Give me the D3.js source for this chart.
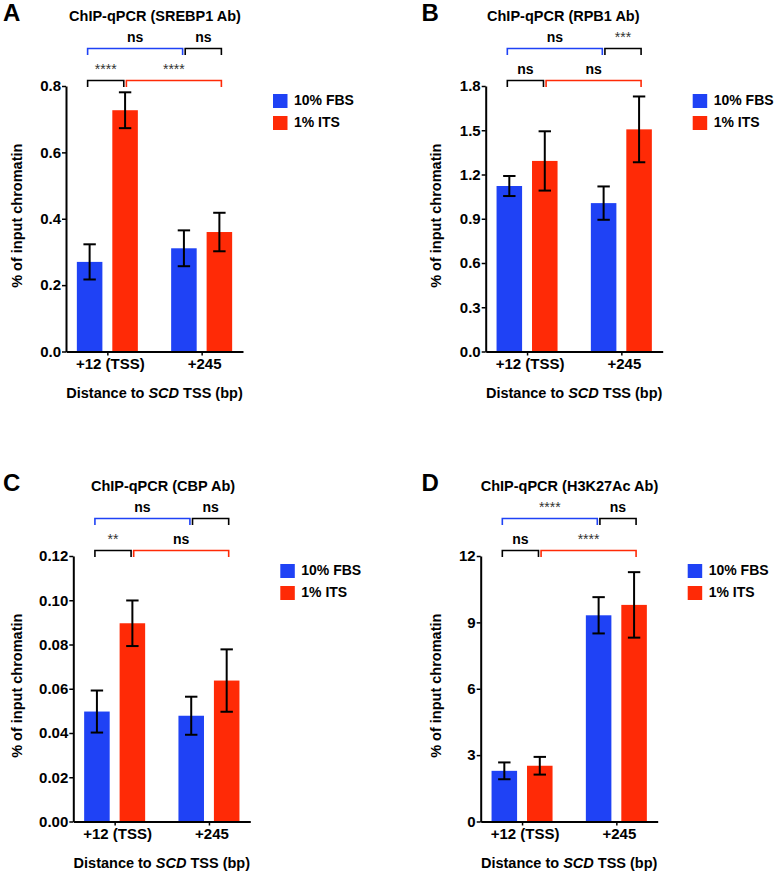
<!DOCTYPE html>
<html>
<head>
<meta charset="utf-8">
<script src="https://cdn.jsdelivr.net/npm/d3@7"></script>
<style>
  html, body { margin: 0; padding: 0; background: #fff; }
  svg { display: block; }
  text { font-family: "Liberation Sans", Arial, sans-serif; }
</style>
</head>
<body>
<svg id="chart" width="777" height="873"></svg>
<script>
// ---------- DATA ----------
const categories = ["+12 (TSS)", "+245"];
const groups = ["10% FBS", "1% ITS"];
const panelLetters = ["A", "B", "C", "D"];
const panelTitles = ["ChIP-qPCR (SREBP1 Ab)", "ChIP-qPCR (RPB1 Ab)", "ChIP-qPCR (CBP Ab)", "ChIP-qPCR (H3K27Ac Ab)"];

// Panel A: SREBP1
const srebp1FBS = [0.270, 0.311];
const srebp1ITS = [0.727, 0.360];
const srebp1FBSErr = [0.053, 0.054];
const srebp1ITSErr = [0.054, 0.058];
const srebp1Ticks = [0, 0.2, 0.4, 0.6, 0.8];
const srebp1Sig = ["ns", "ns", "****", "****"]; // upper blue, upper black, lower black, lower red

// Panel B: RPB1
const rpb1FBS = [1.122, 1.006];
const rpb1ITS = [1.292, 1.506];
const rpb1FBSErr = [0.068, 0.113];
const rpb1ITSErr = [0.201, 0.223];
const rpb1Ticks = [0, 0.3, 0.6, 0.9, 1.2, 1.5, 1.8];
const rpb1Sig = ["ns", "***", "ns", "ns"];

// Panel C: CBP
const cbpFBS = [0.0497, 0.0478];
const cbpITS = [0.0896, 0.0637];
const cbpFBSErr = [0.0095, 0.0086];
const cbpITSErr = [0.0103, 0.0141];
const cbpTicks = [0, 0.02, 0.04, 0.06, 0.08, 0.10, 0.12];
const cbpSig = ["ns", "ns", "**", "ns"];

// Panel D: H3K27Ac
const h3k27FBS = [2.29, 9.32];
const h3k27ITS = [2.52, 9.79];
const h3k27FBSErr = [0.38, 0.82];
const h3k27ITSErr = [0.40, 1.48];
const h3k27Ticks = [0, 3, 6, 9, 12];
const h3k27Sig = ["****", "ns", "ns", "****"];

// ---------- STYLE / LAYOUT ----------
const BLUE = "#1f42f5";
const RED = "#ff2a06";
const PLOT_W = 177, PLOT_H = 265.5;

const panels = [
  { fbs: srebp1FBS, its: srebp1ITS, fbsE: srebp1FBSErr, itsE: srebp1ITSErr, ticks: srebp1Ticks, fmt: d3.format(".1f"), sig: srebp1Sig,
    axisX: 66, top: 86, panelX: 0, titleDx: 89 },
  { fbs: rpb1FBS, its: rpb1ITS, fbsE: rpb1FBSErr, itsE: rpb1ITSErr, ticks: rpb1Ticks, fmt: d3.format(".1f"), sig: rpb1Sig,
    axisX: 485.7, top: 86, panelX: 418.5, titleDx: 77.6 },
  { fbs: cbpFBS, its: cbpITS, fbsE: cbpFBSErr, itsE: cbpITSErr, ticks: cbpTicks, fmt: d3.format(".2f"), sig: cbpSig,
    axisX: 73.3, top: 556, panelX: 0, titleDx: 89.7 },
  { fbs: h3k27FBS, its: h3k27ITS, fbsE: h3k27FBSErr, itsE: h3k27ITSErr, ticks: h3k27Ticks, fmt: d3.format("d"), sig: h3k27Sig,
    axisX: 480.7, top: 556, panelX: 418.5, titleDx: 88.8 }
];

const svg = d3.select("#chart");

panels.forEach((p, pi) => {
  const g = svg.append("g");
  const x0 = p.axisX, top = p.top, bottom = top + PLOT_H;
  const yMax = p.ticks[p.ticks.length - 1];
  const y = d3.scaleLinear().domain([0, yMax]).range([bottom, top]);
  const x = d3.scalePoint().domain(categories).range([x0, x0 + PLOT_W]).padding(0.4385);
  const xs = d3.scaleBand().domain(groups).range([-30.5, 30.5]).paddingInner(0.28);

  const color = { "10% FBS": BLUE, "1% ITS": RED };
  const rows = [];
  categories.forEach((c, i) => {
    rows.push({ cat: c, grp: groups[0], v: p.fbs[i], e: p.fbsE[i] });
    rows.push({ cat: c, grp: groups[1], v: p.its[i], e: p.itsE[i] });
  });
  const cx = d => x(d.cat) + xs(d.grp) + xs.bandwidth() / 2;

  // bars
  g.selectAll("rect.bar").data(rows).join("rect")
    .attr("class", "bar")
    .attr("x", d => x(d.cat) + xs(d.grp))
    .attr("width", xs.bandwidth())
    .attr("y", d => y(d.v))
    .attr("height", d => bottom - y(d.v))
    .attr("fill", d => color[d.grp]);

  // error bars
  const capHalf = 6.2;
  const eb = g.selectAll("g.err").data(rows).join("g").attr("class", "err")
    .attr("stroke", "#000").attr("stroke-width", 2).attr("fill", "none");
  eb.append("line").attr("x1", cx).attr("x2", cx).attr("y1", d => y(d.v + d.e)).attr("y2", d => y(d.v - d.e));
  eb.append("line").attr("x1", d => cx(d) - capHalf).attr("x2", d => cx(d) + capHalf).attr("y1", d => y(d.v + d.e)).attr("y2", d => y(d.v + d.e));
  eb.append("line").attr("x1", d => cx(d) - capHalf).attr("x2", d => cx(d) + capHalf).attr("y1", d => y(d.v - d.e)).attr("y2", d => y(d.v - d.e));

  // y axis
  const yAxis = g.append("g").attr("transform", `translate(${x0},0)`)
    .call(d3.axisLeft(y).tickValues(p.ticks).tickFormat(p.fmt).tickSize(4).tickSizeOuter(0).tickPadding(1));
  yAxis.select(".domain").attr("stroke", "#000").attr("stroke-width", 2);
  yAxis.selectAll(".tick line").attr("stroke", "#000").attr("stroke-width", 1.5);
  yAxis.selectAll(".tick text").attr("font-size", 15).attr("font-weight", "bold").attr("fill", "#000")
    .attr("font-family", "'Liberation Sans', Arial, sans-serif");

  // x axis
  const xAxis = g.append("g").attr("transform", `translate(0,${bottom})`)
    .call(d3.axisBottom(x).tickSize(4).tickSizeOuter(0).tickFormat(""));
  xAxis.select(".domain").attr("stroke", "#000").attr("stroke-width", 2);
  xAxis.selectAll(".tick line").attr("stroke", "#000").attr("stroke-width", 1.5);
  g.selectAll("text.xlab").data(categories).join("text")
    .attr("class", "xlab")
    .attr("x", d => x(d) + 3).attr("y", bottom + 17)
    .attr("text-anchor", "middle").attr("font-size", 15).attr("font-weight", "bold")
    .text(d => d);

  // x title
  const xt = g.append("text").attr("x", x0 + PLOT_W / 2).attr("y", bottom + 46)
    .attr("text-anchor", "middle").attr("font-size", 14.5).attr("font-weight", "bold");
  xt.append("tspan").text("Distance to ");
  xt.append("tspan").attr("font-style", "italic").text("SCD");
  xt.append("tspan").text(" TSS (bp)");

  // y title
  g.append("text")
    .attr("transform", `translate(${p.panelX + 22},${top + PLOT_H / 2 - 3}) rotate(-90)`)
    .attr("text-anchor", "middle").attr("font-size", 14.5).attr("font-weight", "bold")
    .text("% of input chromatin");

  // title & letter
  g.append("text").attr("x", x0 + p.titleDx).attr("y", top - 65)
    .attr("text-anchor", "middle").attr("font-size", 14.5).attr("font-weight", "bold")
    .text(panelTitles[pi]);
  g.append("text").attr("x", p.panelX + 3).attr("y", top - 65.5)
    .attr("font-size", 24).attr("font-weight", "bold").text(panelLetters[pi]);

  // significance brackets
  const b1 = cx(rows[0]), r1 = cx(rows[1]), b2 = cx(rows[2]), r2 = cx(rows[3]);
  const gap = 1.3, ext = 2;
  const brackets = [
    { x1: b1 - ext, x2: b2 - gap, yy: top - 37.5, col: BLUE, lab: p.sig[0] },
    { x1: b2 + gap, x2: r2 + ext, yy: top - 37.5, col: "#000", lab: p.sig[1] },
    { x1: b1 - ext, x2: r1 - gap, yy: top - 5.5, col: "#000", lab: p.sig[2] },
    { x1: r1 + gap, x2: r2 + ext, yy: top - 5.5, col: RED, lab: p.sig[3] }
  ];
  g.selectAll("path.br").data(brackets).join("path")
    .attr("class", "br")
    .attr("d", d => `M${d.x1},${d.yy + 6.5}V${d.yy}H${d.x2}V${d.yy + 6.5}`)
    .attr("fill", "none").attr("stroke", d => d.col).attr("stroke-width", 1.6);
  g.selectAll("text.sig").data(brackets).join("text")
    .attr("class", "sig")
    .attr("x", d => (d.x1 + d.x2) / 2).attr("y", d => d.yy - 7)
    .attr("text-anchor", "middle")
    .attr("font-size", 14)
    .attr("font-weight", d => d.lab === "ns" ? "bold" : "normal")
    .attr("fill", d => d.lab === "ns" ? "#000" : "#333")
    .text(d => d.lab);

  // legend
  const lg = g.append("g").attr("transform", `translate(${x0 + 207},${top + 8})`);
  groups.forEach((grp, i) => {
    lg.append("rect").attr("x", 0).attr("y", i * 22).attr("width", 14.5).attr("height", 14)
      .attr("fill", color[grp]);
    lg.append("text").attr("x", 21).attr("y", i * 22 + 11)
      .attr("font-size", 14).attr("font-weight", "bold").text(grp);
  });
});
</script>
</body>
</html>
